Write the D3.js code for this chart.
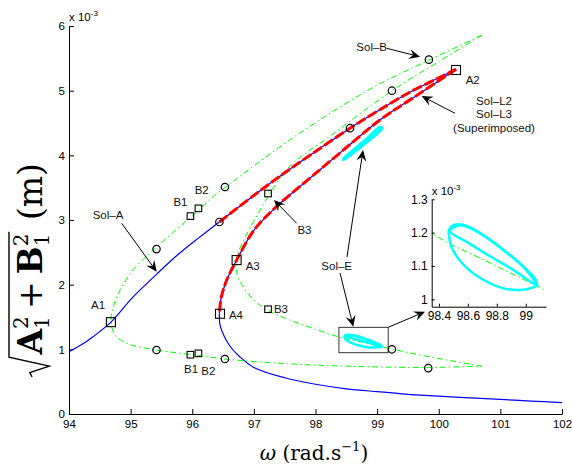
<!DOCTYPE html>
<html><head><meta charset="utf-8">
<script src="https://cdn.jsdelivr.net/npm/d3@7"></script>
<style>body{margin:0;background:#fff}svg{display:block}</style>
</head><body>
<svg id="c" width="572" height="468"></svg>
<script>
// ---------------- data ----------------
const xTicks = [94,95,96,97,98,99,100,101,102];
const yTicks = [0,1,2,3,4,5,6];
const insetXTicks = [98.4,98.6,98.8,99];
const insetYTicks = [1,1.1,1.2,1.3];
const insetXTickLabels = ["98.4","98.6","98.8","99"];
const insetYTickLabels = ["1","1.1","1.2","1.3"];

// Sol-A (blue, stable low branch up to the red start)
const solA = [[94.0,0.963],[94.2,1.07],[94.39,1.195],[94.68,1.42],[95.04,1.81],[95.42,2.16],[95.75,2.45],[96.1,2.72],[96.44,2.97]];
// upper branch (blue under red dashes)
const solLUpper = [[96.44,2.97],[97.0,3.38],[97.5,3.73],[98.0,4.06],[98.56,4.42],[99.0,4.68],[99.5,4.96],[100.0,5.2],[100.28,5.33]];
// middle branch (blue under red dashes)
const solLMiddle = [[100.28,5.33],[99.6,4.9],[99.05,4.55],[98.45,4.08],[97.9,3.64],[97.37,3.21],[97.0,2.84],[96.72,2.38],[96.55,2.05],[96.47,1.8],[96.44,1.55]];
// lower branch (blue)
const solLower = [[96.44,1.55],[96.45,1.38],[96.52,1.2],[96.62,1.04],[96.77,0.886],[97.0,0.72],[97.5,0.56],[98.0,0.46],[98.5,0.39],[99.0,0.345],[99.5,0.305],[100.0,0.275],[100.5,0.25],[101.0,0.226],[101.5,0.2],[102.0,0.176]];
// green dash-dot curves
const greenOuter = [[100.7,5.86],[99.84,5.47],[99.05,5.11],[98.2,4.63],[97.42,4.13],[96.53,3.5],[96.3,3.33],[96.0,3.06],[95.75,2.86],[95.42,2.58],[95.04,2.23],[94.83,1.92],[94.72,1.66],[94.68,1.42],[94.75,1.22],[94.94,1.09],[95.42,0.99],[95.97,0.92],[96.53,0.85],[97.5,0.78],[98.5,0.74],[99.83,0.72],[100.7,0.74]];
const greenInner = [[100.7,5.86],[100.0,5.45],[99.24,5.0],[98.24,4.3],[97.59,3.84],[97.3,3.47],[97.05,3.07],[96.85,2.72],[96.74,2.48],[96.71,2.3],[96.74,2.12],[96.83,1.96],[96.99,1.77],[97.23,1.6],[97.59,1.45],[98.0,1.31],[98.4,1.185],[98.75,1.11],[99.1,1.035],[99.5,0.95],[100.1,0.84],[100.7,0.74]];
// Sol-E (cyan) loops
const solEOuter = [[98.469,1.208],[98.503,1.223],[98.571,1.223],[98.686,1.198],[98.846,1.148],[98.983,1.098],[99.063,1.063],[99.079,1.043],[99.051,1.036],[98.96,1.028],[98.846,1.033],[98.709,1.058],[98.571,1.103],[98.491,1.153],[98.469,1.193]];
const solEInner = [[98.475,1.205],[98.6,1.17],[98.75,1.13],[98.9,1.092],[99.07,1.045],[98.983,1.098],[98.846,1.148],[98.686,1.198],[98.55,1.222]];
const solEUpper = [[98.45,3.93],[98.6,4.03],[98.8,4.18],[99.0,4.34],[99.08,4.42],[99.04,4.43],[98.85,4.27],[98.65,4.11],[98.48,3.97]];
// markers
const bigSquares = [[94.68,1.42],[100.28,5.32],[96.72,2.38],[96.45,1.55]];
const smallSquares = [[95.97,3.06],[96.10,3.18],[97.23,3.41],[95.97,0.917],[96.10,0.938],[97.23,1.62]];
const circles = [[95.42,2.55],[96.53,3.51],[96.44,2.97],[98.56,4.42],[99.24,5.0],[99.84,5.48],[95.42,0.99],[96.53,0.85],[99.24,1.0],[99.83,0.71]];
// annotations
const annoText = [
 {t:"Sol\u2013A",x:94.633,y:3.077},{t:"A1",x:94.471,y:1.685},
 {t:"B1",x:95.809,y:3.278},{t:"B2",x:96.153,y:3.471},
 {t:"B1",x:95.98,y:0.696},{t:"B2",x:96.26,y:0.665},
 {t:"B3",x:97.821,y:2.841},{t:"A3",x:96.981,y:2.284},
 {t:"A4",x:96.71,y:1.526},{t:"B3",x:97.44,y:1.628},
 {t:"Sol\u2013E",x:98.344,y:2.289},{t:"Sol\u2013B",x:98.912,y:5.68},
 {t:"A2",x:100.551,y:5.169},{t:"Sol\u2013L2",x:100.897,y:4.84},
 {t:"Sol\u2013L3",x:100.897,y:4.639},{t:"(Superimposed)",x:100.897,y:4.43}];
const arrows = [
 [[94.855,2.949],[95.423,2.2]],
 [[99.155,5.655],[99.696,5.525]],
 [[100.264,4.65],[99.723,4.917]],
 [[97.695,2.949],[97.327,3.309]],
 [[98.511,2.428],[98.771,4.082]],
 [[98.398,2.18],[98.613,1.35]],
 [[99.181,1.341],[99.777,1.582]]];
const zoomBox = {x0:98.38,x1:99.18,y0:0.948,y1:1.34};

// ---------------- drawing ----------------
const svg = d3.select("#c");
const x = d3.scaleLinear().domain([94,102]).range([69,562]);
const y = d3.scaleLinear().domain([0,6]).range([414,26]);
const TF = "Liberation Sans, Arial, sans-serif";

const xAx = svg.append("g").attr("transform","translate(0,414)")
  .call(d3.axisBottom(x).tickValues(xTicks).tickFormat(d3.format("d")).tickSizeInner(-5).tickSizeOuter(0).tickPadding(6));
const yAx = svg.append("g").attr("transform","translate(69,0)")
  .call(d3.axisLeft(y).tickValues(yTicks).tickFormat(d3.format("d")).tickSizeInner(-5).tickSizeOuter(0).tickPadding(4));
[xAx,yAx].forEach(a=>{a.selectAll("text").attr("font-family",TF).attr("font-size",11.5).attr("fill","#000");
  a.selectAll("path,line").attr("stroke","#000");});

const ex = svg.append("text").attr("x",69).attr("y",20.5).attr("font-family",TF).attr("font-size",11.5);
ex.append("tspan").text("x 10");
ex.append("tspan").attr("font-size",8).attr("dy",-5).text("-3");

const line = d3.line().x(d=>x(d[0])).y(d=>y(d[1])).curve(d3.curveCatmullRom.alpha(0.5));
const greenDash = "6,3,1.5,3";
[greenOuter,greenInner].forEach(g=>svg.append("path").attr("d",line(g)).attr("fill","none")
  .attr("stroke","#00ff00").attr("stroke-width",1).attr("stroke-dasharray",greenDash));
[solA,solLUpper,solLMiddle,solLower].forEach(g=>svg.append("path").attr("d",line(g)).attr("fill","none")
  .attr("stroke","#0000ff").attr("stroke-width",1.2));
[solLUpper,solLMiddle].forEach(g=>svg.append("path").attr("d",line(g)).attr("fill","none")
  .attr("stroke","#ff0000").attr("stroke-width",3).attr("stroke-dasharray","10,3"));

const closed = d3.line().x(d=>x(d[0])).y(d=>y(d[1])).curve(d3.curveCatmullRomClosed.alpha(0.5));
[solEOuter,solEInner].forEach(g=>svg.append("path").attr("d",closed(g)).attr("fill","none")
  .attr("stroke","#00ffff").attr("stroke-width",2.5));
svg.append("path").attr("d",closed(solEUpper)).attr("fill","none").attr("stroke","#00ffff").attr("stroke-width",3);

// zoom rectangle
svg.append("rect").attr("x",x(zoomBox.x0)).attr("y",y(zoomBox.y1))
  .attr("width",x(zoomBox.x1)-x(zoomBox.x0)).attr("height",y(zoomBox.y0)-y(zoomBox.y1))
  .attr("fill","none").attr("stroke","#333").attr("stroke-width",1);

// markers
svg.selectAll(".bs").data(bigSquares).join("rect").attr("x",d=>x(d[0])-4.5).attr("y",d=>y(d[1])-4.5)
  .attr("width",9).attr("height",9).attr("fill","none").attr("stroke","#000").attr("stroke-width",1.1);
svg.selectAll(".ss").data(smallSquares).join("rect").attr("x",d=>x(d[0])-3.3).attr("y",d=>y(d[1])-3.3)
  .attr("width",6.6).attr("height",6.6).attr("fill","none").attr("stroke","#000").attr("stroke-width",1.1);
svg.selectAll(".ci").data(circles).join("circle").attr("cx",d=>x(d[0])).attr("cy",d=>y(d[1])).attr("r",3.7)
  .attr("fill","none").attr("stroke","#000").attr("stroke-width",1.2);

// annotation text
svg.selectAll(".at").data(annoText).join("text").attr("x",d=>x(d.x)).attr("y",d=>y(d.y))
  .attr("text-anchor","middle").attr("dominant-baseline","central").attr("font-family",TF)
  .attr("font-size",11.5).attr("fill","#111").text(d=>d.t);

function drawArrow(p0,p1){
  const dx=p1[0]-p0[0], dy=p1[1]-p0[1], L=Math.hypot(dx,dy), ux=dx/L, uy=dy/L, px=-uy, py=ux;
  const hl=11, hw=5, nt=7;
  svg.append("line").attr("x1",p0[0]).attr("y1",p0[1]).attr("x2",p1[0]-ux*nt).attr("y2",p1[1]-uy*nt)
    .attr("stroke","#000").attr("stroke-width",1);
  const pts=[[p1[0],p1[1]],[p1[0]-ux*hl+px*hw,p1[1]-uy*hl+py*hw],[p1[0]-ux*nt,p1[1]-uy*nt],[p1[0]-ux*hl-px*hw,p1[1]-uy*hl-py*hw]];
  svg.append("polygon").attr("points",pts.map(p=>p.join(",")).join(" ")).attr("fill","#000");
}
arrows.forEach(a=>drawArrow([x(a[0][0]),y(a[0][1])],[x(a[1][0]),y(a[1][1])]));

// ---------------- inset ----------------
const xi = d3.scaleLinear().domain([98.35,99.14]).range([431.7,546]);
const yi = d3.scaleLinear().domain([0.978,1.3]).range([306.7,199.3]);
svg.append("rect").attr("x",431.7).attr("y",199.3).attr("width",546-431.7).attr("height",306.7-199.3).attr("fill","#fff");
const xiAx = svg.append("g").attr("transform","translate(0,306.7)")
  .call(d3.axisBottom(xi).tickValues(insetXTicks).tickFormat((d,i)=>insetXTickLabels[i]).tickSizeInner(-3).tickSizeOuter(0).tickPadding(5));
const yiAx = svg.append("g").attr("transform","translate(431.7,0)")
  .call(d3.axisLeft(yi).tickValues(insetYTicks).tickFormat((d,i)=>insetYTickLabels[i]).tickSizeInner(-3).tickSizeOuter(0).tickPadding(4));
[xiAx,yiAx].forEach(a=>{a.selectAll("text").attr("font-family",TF).attr("font-size",12).attr("fill","#000");
  a.selectAll("path,line").attr("stroke","#000");});
const exi = svg.append("text").attr("x",431.7).attr("y",195).attr("font-family",TF).attr("font-size",11.5);
exi.append("tspan").text("x 10");
exi.append("tspan").attr("font-size",8).attr("dy",-5).text("-3");
const lineI = d3.line().x(d=>xi(d[0])).y(d=>yi(d[1])).curve(d3.curveCatmullRom.alpha(0.5));
const closedI = d3.line().x(d=>xi(d[0])).y(d=>yi(d[1])).curve(d3.curveCatmullRomClosed.alpha(0.5));
const gClip = svg.append("clipPath").attr("id","ic").append("rect").attr("x",431.7).attr("y",199.3).attr("width",546-431.7).attr("height",306.7-199.3);
svg.append("path").attr("clip-path","url(#ic)").attr("d",lineI(greenInner)).attr("fill","none")
  .attr("stroke","#00ff00").attr("stroke-width",1).attr("stroke-dasharray",greenDash);
[solEOuter,solEInner].forEach(g=>svg.append("path").attr("d",closedI(g)).attr("fill","none")
  .attr("stroke","#00ffff").attr("stroke-width",2.5));

// ---------------- axis labels ----------------
const SF = "DejaVu Serif, serif";
const xl = svg.append("text").attr("x",314).attr("y",460).attr("text-anchor","middle").attr("font-family",SF).attr("font-size",20);
xl.append("tspan").attr("font-style","italic").text("\u03c9");
xl.append("tspan").text(" (rad.s");
xl.append("tspan").attr("font-size",13).attr("dy",-9).text("\u22121");
xl.append("tspan").attr("dy",9).text(")");

// y label with radical
const S = 33;
const yg = svg.append("g");
let cx = 0.62*S + 2;
function piece(str, size, bold, dy, xpos){
  const t = yg.append("text").attr("x",xpos).attr("y",dy).attr("font-family",SF).attr("font-size",size)
    .attr("font-weight",bold?"bold":"normal").text(str);
  return t.node().getComputedTextLength();
}
function stack(xpos){
  const w1 = piece("2", 0.6*S, false, -0.42*S, xpos);
  const w2 = piece("1", 0.6*S, false, 0.2*S, xpos);
  return Math.max(w1,w2);
}
cx += piece("A", S, true, 0, cx);
cx += stack(cx) + 0.22*S;
cx += piece("+", S, false, 0, cx) + 0.22*S;
cx += piece("B", S, true, 0, cx);
cx += stack(cx) + 2;
const barEnd = cx;
cx += 0.35*S;
cx += piece("(m)", S, false, 0, cx);
const W = cx;
yg.append("path").attr("d",`M0,${-0.3*S} L${0.13*S},${-0.37*S} L${0.33*S},${0.22*S} L${0.6*S},${-1.0*S} L${barEnd},${-1.0*S}`)
  .attr("fill","none").attr("stroke","#000").attr("stroke-width",1.4);
yg.attr("transform",`translate(42,270) rotate(-90) translate(${-W/2},0)`);
</script>
</body></html>
